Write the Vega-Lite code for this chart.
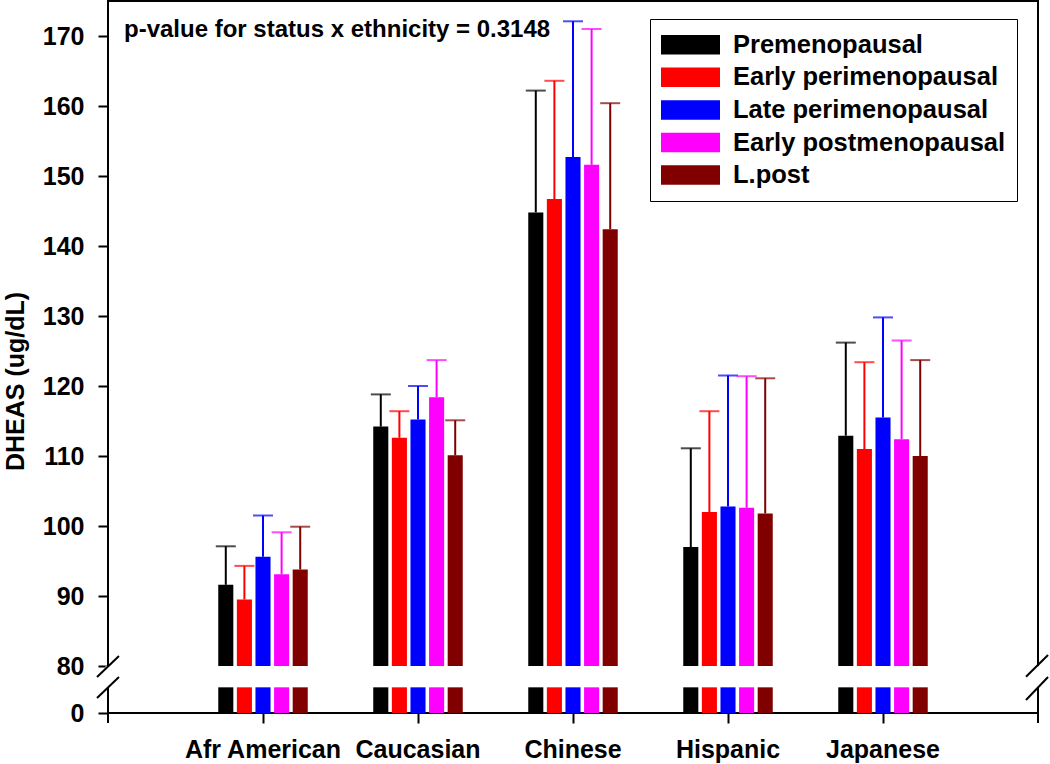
{
  "$schema": "https://vega.github.io/schema/vega-lite/v6.json",
  "width": 930,
  "height": 712,
  "autosize": {"type": "none"},
  "padding": {"left": 108, "top": 1, "right": 12, "bottom": 51},
  "config": {
    "font": "Liberation Sans",
    "view": {"stroke": "black", "strokeWidth": 2},
    "axis": {
      "labelFont": "Liberation Sans", "labelFontWeight": "bold", "labelFontSize": 25, "labelColor": "black",
      "tickColor": "black", "tickWidth": 2, "tickSize": 10, "domain": false, "grid": false,
      "titleFont": "Liberation Sans", "titleFontSize": 25, "titleFontWeight": "bold", "titleColor": "black"
    },
    "legend": {
      "orient": "none", "legendX": 542, "legendY": 18, "title": null,
      "symbolType": "M-1,-0.33H1V0.33H-1Z", "symbolSize": 3481, "symbolStrokeWidth": 0, "symbolOpacity": 1,
      "labelFont": "Liberation Sans", "labelFontWeight": "bold", "labelFontSize": 25.5, "labelColor": "black",
      "labelOffset": 13, "labelLimit": 400, "clipHeight": 29.4, "rowPadding": 2.6, "padding": 11,
      "strokeColor": "black"
    }
  },
  "layer": [
    {
      "data": {"values": [
        {"ethnicity": "Afr American", "status": "Premenopausal", "mean": 91.6, "upper": 97.1},
        {"ethnicity": "Afr American", "status": "Early perimenopausal", "mean": 89.5, "upper": 94.3},
        {"ethnicity": "Afr American", "status": "Late perimenopausal", "mean": 95.6, "upper": 101.5},
        {"ethnicity": "Afr American", "status": "Early postmenopausal", "mean": 93.1, "upper": 99.1},
        {"ethnicity": "Afr American", "status": "L.post", "mean": 93.8, "upper": 99.9},
        {"ethnicity": "Caucasian", "status": "Premenopausal", "mean": 114.2, "upper": 118.8},
        {"ethnicity": "Caucasian", "status": "Early perimenopausal", "mean": 112.6, "upper": 116.4},
        {"ethnicity": "Caucasian", "status": "Late perimenopausal", "mean": 115.2, "upper": 120.0},
        {"ethnicity": "Caucasian", "status": "Early postmenopausal", "mean": 118.4, "upper": 123.7},
        {"ethnicity": "Caucasian", "status": "L.post", "mean": 110.1, "upper": 115.1},
        {"ethnicity": "Chinese", "status": "Premenopausal", "mean": 144.8, "upper": 162.2},
        {"ethnicity": "Chinese", "status": "Early perimenopausal", "mean": 146.7, "upper": 163.6},
        {"ethnicity": "Chinese", "status": "Late perimenopausal", "mean": 152.7, "upper": 172.1},
        {"ethnicity": "Chinese", "status": "Early postmenopausal", "mean": 151.6, "upper": 171.0},
        {"ethnicity": "Chinese", "status": "L.post", "mean": 142.4, "upper": 160.4},
        {"ethnicity": "Hispanic", "status": "Premenopausal", "mean": 97.0, "upper": 111.1},
        {"ethnicity": "Hispanic", "status": "Early perimenopausal", "mean": 102.0, "upper": 116.4},
        {"ethnicity": "Hispanic", "status": "Late perimenopausal", "mean": 102.8, "upper": 121.5},
        {"ethnicity": "Hispanic", "status": "Early postmenopausal", "mean": 102.6, "upper": 121.4},
        {"ethnicity": "Hispanic", "status": "L.post", "mean": 101.8, "upper": 121.1},
        {"ethnicity": "Japanese", "status": "Premenopausal", "mean": 112.9, "upper": 126.2},
        {"ethnicity": "Japanese", "status": "Early perimenopausal", "mean": 111.0, "upper": 123.4},
        {"ethnicity": "Japanese", "status": "Late perimenopausal", "mean": 115.5, "upper": 129.8},
        {"ethnicity": "Japanese", "status": "Early postmenopausal", "mean": 112.4, "upper": 126.5},
        {"ethnicity": "Japanese", "status": "L.post", "mean": 110.0, "upper": 123.7}
      ]},
      "encoding": {
        "x": {
          "field": "ethnicity", "type": "nominal",
          "scale": {"paddingInner": 0.4226, "paddingOuter": 0.7113},
          "axis": {"title": null, "labelAngle": 0, "labelPadding": 14}
        },
        "xOffset": {
          "field": "status", "type": "nominal",
          "sort": ["Premenopausal", "Early perimenopausal", "Late perimenopausal", "Early postmenopausal", "L.post"],
          "scale": {"paddingInner": 0.19, "paddingOuter": 0}
        },
        "color": {
          "field": "status", "type": "nominal",
          "sort": ["Premenopausal", "Early perimenopausal", "Late perimenopausal", "Early postmenopausal", "L.post"],
          "scale": {
            "domain": ["Premenopausal", "Early perimenopausal", "Late perimenopausal", "Early postmenopausal", "L.post"],
            "range": ["#000000", "#ff0000", "#0000ff", "#ff00ff", "#800000"]
          }
        }
      },
      "layer": [
        {
          "mark": {"type": "bar"},
          "encoding": {
            "y": {
              "field": "mean", "type": "quantitative",
              "scale": {"domain": [0, 80, 175], "range": [712, 665, 0], "nice": false, "zero": false},
              "axis": {"title": "DHEAS (ug/dL)", "values": [0, 80, 90, 100, 110, 120, 130, 140, 150, 160, 170], "labelPadding": 14, "titlePadding": 14, "titleY": 380}
            },
            "y2": {"datum": 80}
          }
        },
        {
          "mark": {"type": "bar"},
          "encoding": {
            "y": {"datum": 0, "type": "quantitative"},
            "y2": {"datum": 43.7}
          }
        },
        {
          "mark": {"type": "rule", "strokeWidth": 2},
          "encoding": {
            "y": {"field": "mean", "type": "quantitative"},
            "y2": {"field": "upper"}
          }
        },
        {
          "mark": {"type": "tick", "size": 20, "thickness": 2, "orient": "horizontal"},
          "encoding": {
            "y": {"field": "upper", "type": "quantitative"}
          }
        }
      ]
    },
    {
      "data": {"values": [{}]},
      "layer": [
        {
          "mark": {"type": "rule", "color": "white", "strokeWidth": 5},
          "encoding": {
            "x": {"datum": 0, "type": "quantitative", "scale": {"domain": [0, 1], "nice": false, "zero": false}, "axis": null},
            "y": {"datum": 44.3, "type": "quantitative"},
            "y2": {"datum": 79.8}
          }
        },
        {
          "mark": {"type": "rule", "color": "white", "strokeWidth": 5},
          "encoding": {
            "x": {"datum": 1, "type": "quantitative"},
            "y": {"datum": 44.3, "type": "quantitative"},
            "y2": {"datum": 79.8}
          }
        },
        {
          "mark": {"type": "rule", "color": "black", "strokeWidth": 2},
          "encoding": {
            "x": {"datum": -0.0118, "type": "quantitative"},
            "x2": {"datum": 0.0118},
            "y": {"datum": 61.3, "type": "quantitative"},
            "y2": {"datum": 81.43}
          }
        },
        {
          "mark": {"type": "rule", "color": "black", "strokeWidth": 2},
          "encoding": {
            "x": {"datum": -0.0118, "type": "quantitative"},
            "x2": {"datum": 0.0118},
            "y": {"datum": 25.5, "type": "quantitative"},
            "y2": {"datum": 61.3}
          }
        },
        {
          "mark": {"type": "rule", "color": "black", "strokeWidth": 2},
          "encoding": {
            "x": {"datum": 0.9871, "type": "quantitative"},
            "x2": {"datum": 1.0108},
            "y": {"datum": 61.8, "type": "quantitative"},
            "y2": {"datum": 81.57}
          }
        },
        {
          "mark": {"type": "rule", "color": "black", "strokeWidth": 2},
          "encoding": {
            "x": {"datum": 0.9871, "type": "quantitative"},
            "x2": {"datum": 1.0108},
            "y": {"datum": 22.1, "type": "quantitative"},
            "y2": {"datum": 61.3}
          }
        },
        {
          "mark": {"type": "rule", "color": "black", "strokeWidth": 2},
          "encoding": {
            "x": {"datum": 0, "type": "quantitative"},
            "y": {"datum": 0, "type": "quantitative"},
            "y2": {"datum": -17}
          }
        },
        {
          "mark": {"type": "rule", "color": "black", "strokeWidth": 2},
          "encoding": {
            "x": {"datum": 1, "type": "quantitative"},
            "y": {"datum": 0, "type": "quantitative"},
            "y2": {"datum": -17}
          }
        },
        {
          "mark": {"type": "text", "text": "p-value for status x ethnicity = 0.3148", "align": "left", "baseline": "alphabetic", "fontSize": 24, "fontWeight": "bold", "font": "Liberation Sans", "color": "black"},
          "encoding": {
            "x": {"datum": 0.0172, "type": "quantitative"},
            "y": {"datum": 169.86, "type": "quantitative"}
          }
        }
      ]
    }
  ],
  "resolve": {"scale": {"x": "independent"}, "axis": {"x": "independent"}}
}
